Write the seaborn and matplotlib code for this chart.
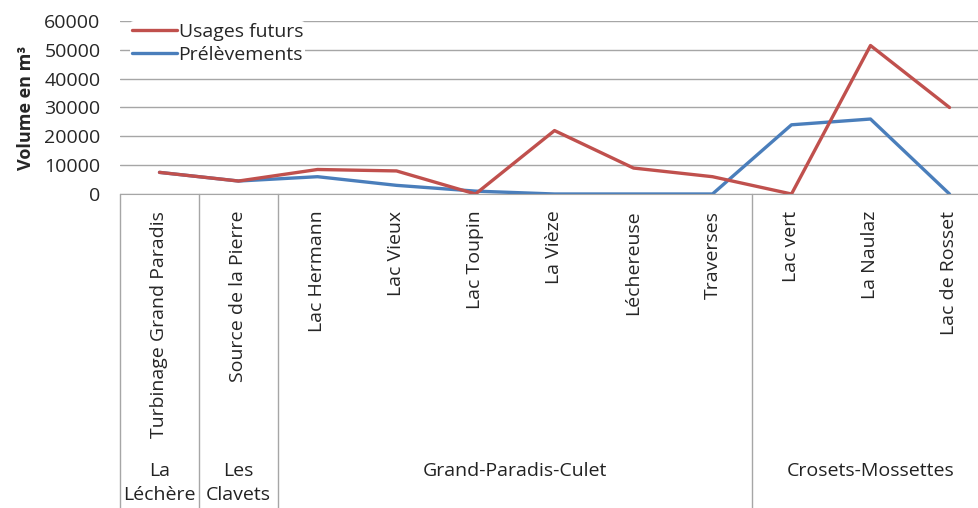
import pandas as pd
import seaborn as sns
import matplotlib.pyplot as plt
import matplotlib.transforms as mtransforms
from matplotlib.lines import Line2D

# data
sites = ['Turbinage Grand Paradis', 'Source de la Pierre', 'Lac Hermann', 'Lac Vieux',
         'Lac Toupin', 'La Vièze', 'Léchereuse', 'Traverses', 'Lac vert', 'La Naulaz',
         'Lac de Rosset']
groups = ['La\nLéchère', 'Les\nClavets', 'Grand-Paradis-Culet', 'Crosets-Mossettes']
group_sizes = [1, 1, 6, 3]
usages_futurs = [7500, 4500, 8500, 8000, 0, 22000, 9000, 6000, 0, 51500, 30000]
prelevements = [7500, 4500, 6000, 3000, 1000, 0, 0, 0, 24000, 26000, 0]

df = pd.DataFrame({
    'pos': list(range(len(sites))) * 2,
    'volume': prelevements + usages_futurs,
    'serie': ['Prélèvements'] * len(sites) + ['Usages futurs'] * len(sites),
})

sns.set_style('white')
plt.rcParams['font.family'] = ['Open Sans', 'DejaVu Sans']

W, H = 979, 508
fig = plt.figure(figsize=(W / 100, H / 100), dpi=100)
# plot area: x 120..989 px, y 21..194 px
ax = fig.add_axes([120 / W, (H - 194) / H, 869 / W, 173 / H])

pal = {'Usages futurs': '#C0504D', 'Prélèvements': '#4A7EBB'}
sns.lineplot(data=df, x='pos', y='volume', hue='serie',
             hue_order=['Prélèvements', 'Usages futurs'], palette=pal,
             linewidth=2.4, sort=False, ax=ax, legend=False)

ax.set_xlim(-0.5, len(sites) - 0.5)
ax.set_ylim(0, 60000)
ax.set_yticks(range(0, 60001, 10000))
ax.yaxis.grid(True, color='#A6A6A6', linewidth=1)
ax.set_axisbelow(True)
for s in ['top', 'right', 'left']:
    ax.spines[s].set_visible(False)
ax.spines['bottom'].set_color('#A6A6A6')
ax.tick_params(axis='y', length=0, labelsize=14, pad=14)
ax.tick_params(axis='x', length=0, labelsize=14, pad=12)

ax.set_xticks(range(len(sites)))
ax.set_xticklabels(sites, rotation=90, rotation_mode='anchor', ha='right', va='center')
ax.set_xlabel('')
ax.set_ylabel('Volume en m³', fontsize=13, fontweight='bold', labelpad=7)

# legend: red first
handles = [Line2D([], [], color=pal['Usages futurs'], linewidth=2.4),
           Line2D([], [], color=pal['Prélèvements'], linewidth=2.4)]
leg = ax.legend(handles, ['Usages futurs', 'Prélèvements'], loc='upper left',
                bbox_to_anchor=(10 / 869, 1.0), frameon=True, facecolor='white',
                edgecolor='none', framealpha=1, fontsize=14, handlelength=2.3,
                handletextpad=0.1, labelspacing=0.25, borderpad=0.1,
                borderaxespad=0.0)

# group separators and labels below the axis
trans = mtransforms.blended_transform_factory(ax.transData, fig.transFigure)
y_axis = (H - 194) / H
edges = [-0.5]
for n in group_sizes:
    edges.append(edges[-1] + n)
for e in edges:
    fig.add_artist(Line2D([e, e], [0, y_axis], transform=trans, color='#A6A6A6',
                          linewidth=1))
for g, a, b in zip(groups, edges[:-1], edges[1:]):
    fig.text((a + b) / 2, (H - 462) / H, g, transform=trans, ha='center', va='top',
             fontsize=14, linespacing=1.45, color='#222222')

fig.savefig('out.png', dpi=100)
